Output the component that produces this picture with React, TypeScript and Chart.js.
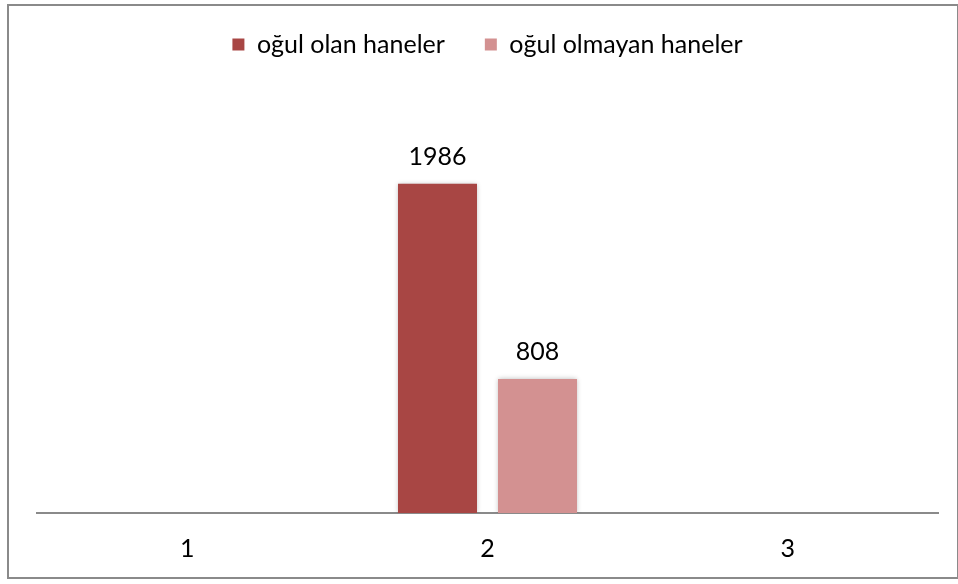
import React, { useEffect, useRef } from "react";
import { Chart, registerables } from "chart.js";

Chart.register(...registerables);

const categories = ["1", "2", "3"];
const seriesNames = ["oğul olan haneler", "oğul olmayan haneler"];
const withSon = [null, 1986, null];
const withoutSon = [null, 808, null];
const seriesColors = ["#A84644", "#D39191"];

const FONT = "Lato, 'Open Sans', sans-serif";

export default function App() {
  const ref = useRef<HTMLCanvasElement | null>(null);

  useEffect(() => {
    document.body.style.margin = "0";
    const canvas = ref.current;
    if (!canvas) return;

    const frame = {
      id: "frame",
      beforeDraw(chart: any) {
        const ctx = chart.ctx;
        ctx.save();
        ctx.fillStyle = "#ffffff";
        ctx.fillRect(0, 0, chart.width, chart.height);
        ctx.strokeStyle = "#8a8a8a";
        ctx.lineWidth = 2;
        ctx.strokeRect(8, 5, chart.width - 8, chart.height - 11);
        ctx.restore();
      },
    };

    const shadow = {
      id: "shadow",
      beforeDatasetsDraw(chart: any) {
        const ctx = chart.ctx;
        ctx.save();
        ctx.shadowColor = "rgba(0,0,0,0.28)";
        ctx.shadowBlur = 5;
        ctx.shadowOffsetX = 0;
        ctx.shadowOffsetY = 0;
      },
      afterDatasetsDraw(chart: any) {
        chart.ctx.restore();
      },
    };

    const labels = {
      id: "valueLabels",
      afterDraw(chart: any) {
        const ctx = chart.ctx;
        ctx.save();
        ctx.fillStyle = "#000000";
        ctx.font = `25px ${FONT}`;
        ctx.textAlign = "center";
        ctx.textBaseline = "middle";
        chart.data.datasets.forEach((ds: any, i: number) => {
          const meta = chart.getDatasetMeta(i);
          meta.data.forEach((bar: any, j: number) => {
            const v = ds.data[j];
            if (v === null || v === undefined) return;
            ctx.fillText(String(v), bar.x, bar.y - 27);
          });
        });
        ctx.restore();
      },
    };

    const chart = new Chart(canvas, {
      type: "bar",
      data: {
        labels: categories,
        datasets: [
          {
            label: seriesNames[0],
            data: withSon,
            backgroundColor: seriesColors[0],
            borderWidth: 0,
          },
          {
            label: seriesNames[1],
            data: withoutSon,
            backgroundColor: seriesColors[1],
            borderWidth: 0,
          },
        ],
      },
      options: {
        responsive: false,
        animation: false,
        categoryPercentage: 0.666,
        barPercentage: 0.79,
        layout: { padding: { left: 37, right: 20, top: -8, bottom: -1 } },
        plugins: {
          tooltip: { enabled: false },
          legend: {
            display: true,
            position: "top",
            labels: {
              boxWidth: 12,
              boxHeight: 12,
              padding: 40,
              color: "#000000",
              font: { family: FONT, size: 25 },
            },
          },
        },
        scales: {
          x: {
            grid: { display: false, drawTicks: false },
            border: { display: true, color: "#8a8a8a", width: 2 },
            ticks: {
              color: "#000000",
              padding: 21,
              font: { family: FONT, size: 25 },
            },
          },
          y: {
            display: false,
            min: 0,
            max: 2690,
          },
        },
      } as any,
      plugins: [frame, shadow, labels],
    });

    return () => chart.destroy();
  }, []);

  return (
    <div style={{ position: "absolute", left: 0, top: 0, width: 958, height: 584 }}>
      <canvas ref={ref} width={958} height={584} style={{ width: 958, height: 584, display: "block" }} />
    </div>
  );
}
